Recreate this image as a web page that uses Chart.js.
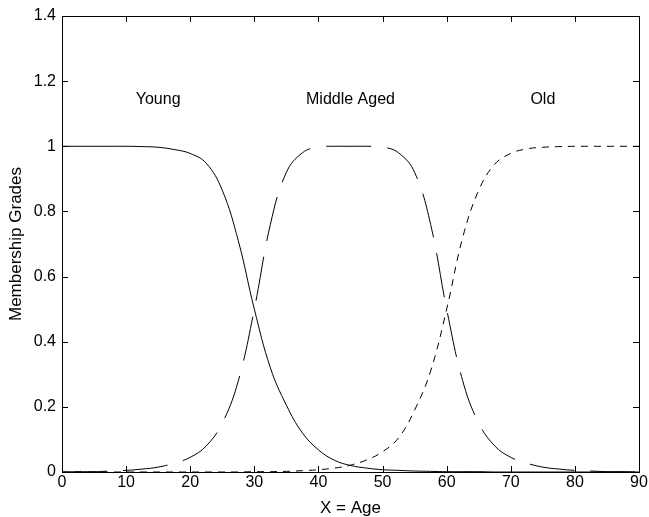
<!DOCTYPE html>
<html>
<head>
<meta charset="utf-8">
<title>Membership Grades</title>
<script src="https://cdn.jsdelivr.net/npm/chart.js@4.4.0/dist/chart.umd.min.js"></script>
<style>
  body { margin: 0; background: #fff; }
  canvas { display: block; }
</style>
</head>
<body>
<canvas id="grafica" width="649" height="517"></canvas>
<script>
// valores, cada 2.5 años
const edades = [0, 2.5, 5, 7.5, 10, 12.5, 15, 17.5, 20, 22.5, 25, 27.5, 30, 32.5, 35, 37.5, 40, 42.5, 45, 47.5, 50, 52.5, 55, 57.5, 60, 62.5, 65, 67.5, 70, 72.5, 75, 77.5, 80, 82.5, 85, 87.5, 90]
const young = [1, 1, 1, 1, 1, 0.999, 0.997, 0.99, 0.978, 0.948, 0.865, 0.71, 0.5, 0.32, 0.205, 0.12, 0.068, 0.036, 0.02, 0.012, 0.007, 0.005, 0.003, 0.002, 0.001, 0.001, 0.001, 0, 0, 0, 0, 0, 0, 0, 0, 0, 0]
const middleAged = [0, 0.001, 0.001, 0.003, 0.005, 0.009, 0.015, 0.027, 0.045, 0.08, 0.15, 0.28, 0.5, 0.76, 0.92, 0.98, 0.998, 1, 1, 1, 0.998, 0.98, 0.92, 0.76, 0.5, 0.28, 0.15, 0.08, 0.045, 0.027, 0.015, 0.009, 0.005, 0.003, 0.001, 0.001, 0]
const old = [0, 0, 0, 0, 0, 0, 0, 0, 0, 0, 0, 0, 0.001, 0.001, 0.002, 0.004, 0.007, 0.012, 0.021, 0.037, 0.062, 0.105, 0.19, 0.31, 0.5, 0.72, 0.865, 0.945, 0.978, 0.992, 0.997, 0.999, 1, 1, 1, 1, 1]

const nombres = ['Young', 'Middle Aged', 'Old']
const nombresX = [15, 45, 75]
const nombresY = 1.13

const fuente = 'Liberation Sans, Arial, Helvetica, sans-serif'
Chart.defaults.font.family = fuente
Chart.defaults.color = '#000'

const puntos = (valores) => edades.map((e, i) => ({ x: e, y: valores[i] }))

// marco completo con las marcas hacia adentro y los nombres de cada curva
const marco = {
    id: 'marco',
    afterDraw(chart) {
        const { ctx, chartArea: { left, right, top, bottom }, scales: { x, y } } = chart
        ctx.save()
        ctx.strokeStyle = '#000'
        ctx.lineWidth = 1
        ctx.strokeRect(left + 0.5, top + 0.5, right - left, bottom - top)
        ctx.beginPath()
        x.ticks.forEach(t => {
            const px = Math.round(x.getPixelForValue(t.value)) + 0.5
            ctx.moveTo(px, bottom)
            ctx.lineTo(px, bottom - 6)
            ctx.moveTo(px, top)
            ctx.lineTo(px, top + 6)
        })
        y.ticks.forEach(t => {
            const py = Math.round(y.getPixelForValue(t.value)) + 0.5
            ctx.moveTo(left, py)
            ctx.lineTo(left + 6, py)
            ctx.moveTo(right, py)
            ctx.lineTo(right - 6, py)
        })
        ctx.stroke()

        ctx.fillStyle = '#000'
        ctx.font = '16px ' + fuente
        ctx.textAlign = 'center'
        ctx.textBaseline = 'alphabetic'
        nombres.forEach((n, i) => {
            ctx.fillText(n, x.getPixelForValue(nombresX[i]), y.getPixelForValue(nombresY))
        })
        ctx.restore()
    }
}

const linea = (label, valores, dash) => ({
    label,
    data: puntos(valores),
    borderColor: '#000',
    borderWidth: 1,
    borderDash: dash,
    pointRadius: 0,
    fill: false,
    tension: 0.4
})

new Chart(document.getElementById('grafica'), {
    type: 'line',
    data: {
        datasets: [
            linea('Young', young, []),
            linea('Middle Aged', middleAged, [45, 16]),
            linea('Old', old, [7, 6])
        ]
    },
    options: {
        responsive: false,
        animation: false,
        devicePixelRatio: 1,
        layout: { padding: { top: 16, right: 10, left: 0, bottom: 0 } },
        plugins: {
            legend: { display: false },
            tooltip: { enabled: false }
        },
        scales: {
            x: {
                type: 'linear',
                min: 0,
                max: 90,
                grid: { display: false, drawTicks: false },
                border: { display: false },
                ticks: { stepSize: 10, padding: 1, font: { size: 16 }, maxRotation: 0 },
                title: { display: true, text: 'X = Age', font: { size: 17, lineHeight: 1 }, padding: { top: 0, bottom: 0 } },
                afterFit: (s) => { s.height = 45 }
            },
            y: {
                type: 'linear',
                min: 0,
                max: 1.4,
                grid: { display: false, drawTicks: false },
                border: { display: false },
                ticks: { stepSize: 0.2, padding: 6, font: { size: 16 }, callback: (v) => Number(v.toFixed(1)).toString() },
                title: { display: true, text: 'Membership Grades', font: { size: 17, lineHeight: 1 }, padding: { top: 8, bottom: 0 } },
                afterFit: (s) => { s.width = 62 }
            }
        }
    },
    plugins: [marco]
})
</script>
</body>
</html>
